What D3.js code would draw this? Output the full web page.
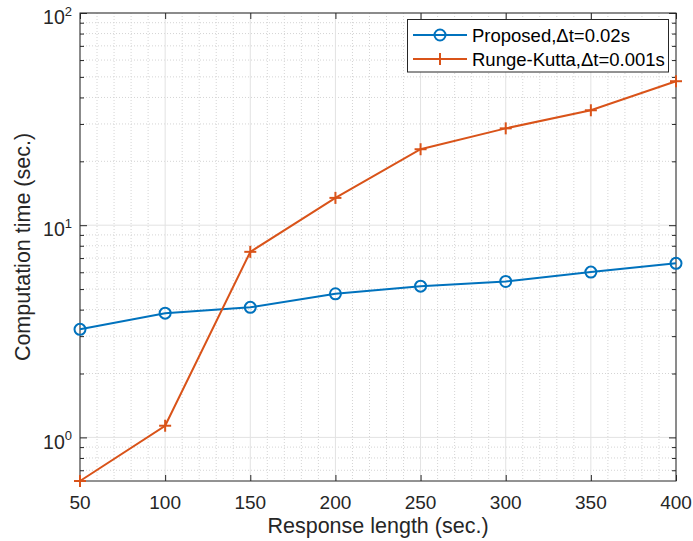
<!DOCTYPE html>
<html>
<head>
<meta charset="utf-8">
<script src="https://cdn.jsdelivr.net/npm/d3@7/dist/d3.min.js"></script>
<style>
  html, body { margin: 0; padding: 0; background: #fff; }
  svg { display: block; font-family: "Liberation Sans", Arial, Helvetica, sans-serif; }
</style>
</head>
<body>
<svg id="chart" width="693" height="541"></svg>
<script>
// Response lengths (sec.)
const lengths = [50, 100, 150, 200, 250, 300, 350, 400];
// Computation time (sec.) for each method
const proposed = [3.23, 3.85, 4.10, 4.75, 5.16, 5.43, 6.01, 6.61];
const rungeKutta = [0.623, 1.135, 7.49, 13.45, 22.8, 28.6, 34.8, 47.7];
// Axis ticks
const xTicks = [50, 100, 150, 200, 250, 300, 350, 400];
const yExponents = [0, 1, 2];
const seriesNames = ["Proposed,\u0394t=0.02s", "Runge-Kutta,\u0394t=0.001s"];

(function () {
const svg = d3.select("#chart");
const mL = 80, mR = 676, mT = 13, mB = 481;
const axisColor = "#262626";
const blue = "#0072BD", orange = "#D95319";

const x = d3.scaleLinear().domain([50, 400]).range([mL, mR]);
const yMin = d3.min(rungeKutta.concat(proposed));
const y = d3.scaleLog().domain([yMin, 100]).range([mB, mT]);

// minor log values inside the domain
const minorY = [];
for (let e = -1; e <= 1; e++) {
  for (let k = 2; k <= 9; k++) {
    const v = k * Math.pow(10, e);
    if (v > yMin && v < 100) minorY.push(v);
  }
}
const minorX = d3.range(60, 400, 10).filter(v => v % 50 !== 0);
const majorY = yExponents.map(e => Math.pow(10, e));

const grid = svg.append("g");
// minor grid (dotted)
grid.selectAll(".mx").data(minorX).join("line")
  .attr("x1", d => x(d)).attr("x2", d => x(d)).attr("y1", mT).attr("y2", mB)
  .attr("stroke", "#d4d4d4").attr("stroke-width", 1).attr("stroke-dasharray", "1,2");
grid.selectAll(".my").data(minorY).join("line")
  .attr("x1", mL).attr("x2", mR).attr("y1", d => y(d)).attr("y2", d => y(d))
  .attr("stroke", "#d4d4d4").attr("stroke-width", 1).attr("stroke-dasharray", "1,2");
// major grid (solid)
grid.selectAll(".gx").data(xTicks).join("line")
  .attr("x1", d => x(d)).attr("x2", d => x(d)).attr("y1", mT).attr("y2", mB)
  .attr("stroke", "#e2e2e2").attr("stroke-width", 1);
grid.selectAll(".gy").data(majorY).join("line")
  .attr("x1", mL).attr("x2", mR).attr("y1", d => y(d)).attr("y2", d => y(d))
  .attr("stroke", "#e2e2e2").attr("stroke-width", 1);

// axes with inward ticks
const ax = svg.append("g");
function tickAxis(axis, scale, vals, size, transform) {
  const g = ax.append("g").attr("transform", transform)
    .call(axis(scale).tickValues(vals).tickSize(size).tickFormat(""));
  g.select(".domain").remove();
  g.selectAll(".tick line").attr("stroke", axisColor);
  return g;
}
tickAxis(d3.axisBottom, x, xTicks, -6, `translate(0,${mB})`);
tickAxis(d3.axisTop, x, xTicks, -6, `translate(0,${mT})`);
tickAxis(d3.axisLeft, y, majorY, -7, `translate(${mL},0)`);
tickAxis(d3.axisLeft, y, minorY, -4, `translate(${mL},0)`);
tickAxis(d3.axisRight, y, majorY, -7, `translate(${mR},0)`);
tickAxis(d3.axisRight, y, minorY, -4, `translate(${mR},0)`);

ax.append("rect")
  .attr("x", mL).attr("y", mT).attr("width", mR - mL).attr("height", mB - mT)
  .attr("fill", "none").attr("stroke", axisColor).attr("stroke-width", 1);

// x tick labels
ax.selectAll(".xl").data(xTicks).join("text")
  .attr("x", d => x(d)).attr("y", 509)
  .attr("text-anchor", "middle").attr("font-size", 19).attr("fill", axisColor)
  .text(d => d);

// y tick labels as powers of ten
const yl = ax.selectAll(".yl").data(yExponents).join("text")
  .attr("x", mL - 8).attr("y", d => y(Math.pow(10, d)) + 11.3)
  .attr("text-anchor", "end").attr("font-size", 19.5).attr("fill", axisColor);
yl.append("tspan").text("10");
yl.append("tspan").attr("dy", -8.5).attr("font-size", 13).text(d => d);

// axis titles
svg.append("text")
  .attr("x", (mL + mR) / 2).attr("y", 533)
  .attr("text-anchor", "middle").attr("font-size", 21.5).attr("fill", axisColor)
  .text("Response length (sec.)");
svg.append("text")
  .attr("transform", `translate(30,${(mT + mB) / 2}) rotate(-90)`)
  .attr("text-anchor", "middle").attr("font-size", 21.5).attr("fill", axisColor)
  .text("Computation time (sec.)");

// series
const line = d3.line().x(d => x(d[0])).y(d => y(d[1]));
const blueData = lengths.map((l, i) => [l, proposed[i]]);
const orangeData = lengths.map((l, i) => [l, rungeKutta[i]]);

const plot = svg.append("g");
plot.append("path").datum(blueData).attr("d", line)
  .attr("fill", "none").attr("stroke", blue).attr("stroke-width", 2);
plot.selectAll(".bm").data(blueData).join("circle")
  .attr("cx", d => x(d[0])).attr("cy", d => y(d[1])).attr("r", 5.5)
  .attr("fill", "none").attr("stroke", blue).attr("stroke-width", 2);

plot.append("path").datum(orangeData).attr("d", line)
  .attr("fill", "none").attr("stroke", orange).attr("stroke-width", 2);
const plus = (g, cx, cy, s) => {
  g.append("line").attr("x1", cx - s).attr("x2", cx + s).attr("y1", cy).attr("y2", cy);
  g.append("line").attr("x1", cx).attr("x2", cx).attr("y1", cy - s).attr("y2", cy + s);
};
const pm = plot.append("g").attr("stroke", orange).attr("stroke-width", 2);
orangeData.forEach(d => plus(pm, x(d[0]), y(d[1]), 6));

// legend
const lg = svg.append("g");
lg.append("rect").attr("x", 407.5).attr("y", 19.5).attr("width", 261).attr("height", 52.5)
  .attr("fill", "#fff").attr("stroke", axisColor).attr("stroke-width", 1);
const rows = [35, 59];
[blue, orange].forEach((c, i) => {
  lg.append("line").attr("x1", 413).attr("x2", 467).attr("y1", rows[i]).attr("y2", rows[i])
    .attr("stroke", c).attr("stroke-width", 2);
  lg.append("text").attr("x", 472).attr("y", rows[i] + 6.5)
    .attr("font-size", 18.5).attr("fill", "#000").text(seriesNames[i]);
});
lg.append("circle").attr("cx", 440).attr("cy", rows[0]).attr("r", 5.5)
  .attr("fill", "none").attr("stroke", blue).attr("stroke-width", 2);
const lp = lg.append("g").attr("stroke", orange).attr("stroke-width", 2);
plus(lp, 440, rows[1], 6);
})();
</script>
</body>
</html>
